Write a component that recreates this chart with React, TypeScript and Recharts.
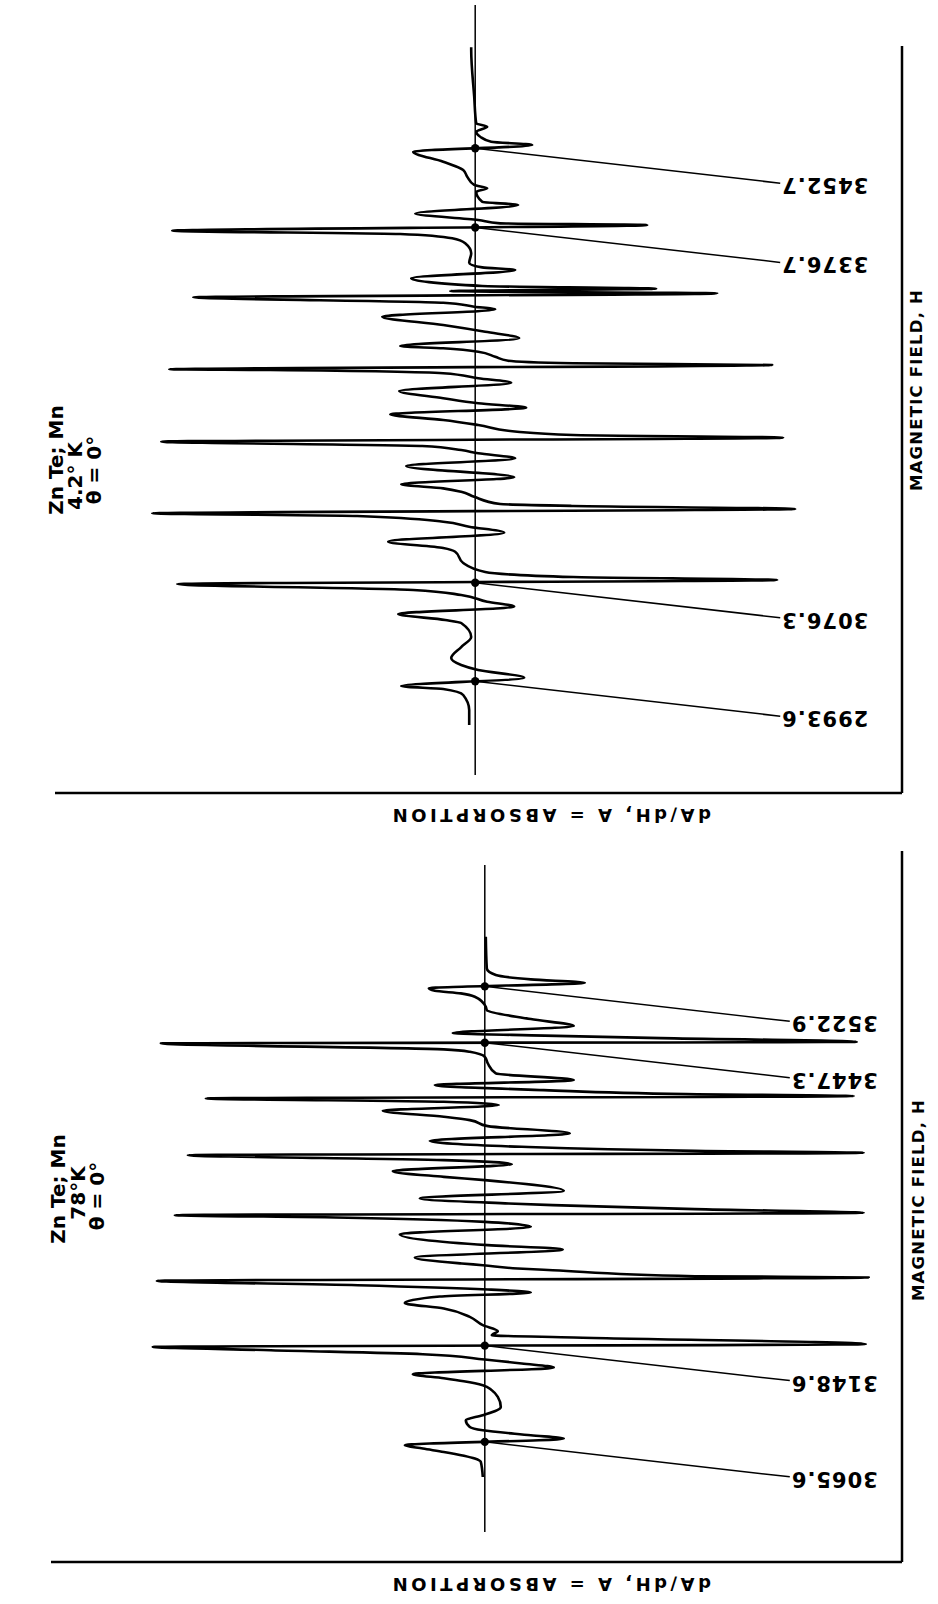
import React from 'react';
import { LineChart, Line, XAxis, YAxis, ReferenceLine, ReferenceDot } from 'recharts';

// ---------- data (field H in gauss, signal dA/dH in arbitrary units) ----------
const fieldTop = [
  2955.1, 2967.9, 2980.8, 2985.9, 2988.5, 2995.6, 3002.2, 3006.5, 3012.5, 3021.9,
  3030.5, 3042.5, 3045.1, 3050.2, 3056.5, 3060.7, 3066.5, 3070.8, 3075.9, 3079.3,
  3081.9, 3086.2, 3093.9, 3103.6, 3106.8, 3112.2, 3119.9, 3125.0, 3129.3, 3134.2,
  3136.5, 3140.2, 3142.8, 3144.5, 3150.7, 3155.0, 3157.9, 3161.4, 3167.4, 3177.0,
  3183.6, 3187.9, 3190.7, 3194.2, 3197.9, 3201.3, 3203.6, 3206.4, 3212.2, 3216.5,
  3221.3, 3227.0, 3230.8, 3235.1, 3241.3, 3248.4, 3252.2, 3256.5, 3259.3, 3259.9,
  3263.6, 3265.1, 3267.3, 3270.7, 3275.0, 3277.9, 3279.9, 3286.5, 3292.1, 3297.9,
  3305.0, 3311.3, 3313.6, 3317.0, 3321.6, 3325.0, 3327.0, 3329.0, 3331.3, 3337.9,
  3345.0, 3347.3, 3351.3, 3359.3, 3367.9, 3372.2, 3375.9, 3378.7, 3383.6, 3385.0,
  3387.9, 3393.4, 3400.7, 3403.5, 3412.1, 3415.0, 3417.9, 3425.0, 3430.7, 3437.8,
  3446.4, 3452.1, 3455.0, 3459.2, 3463.5, 3467.8, 3470.7, 3493.5, 3533.5, 3536.0,
];
const signalTop = [
  -6, -6, -12, -32, -74, 49, 3, -14, -24, -14,
  -4, -14, -30, -77, 39, 12, -14, -62, -298, 302,
  98, 10, -12, -20, -32, -87, 29, -6, -32, -118,
  -323, 320, 98, 25, -1, -14, -32, -74, 39, -69,
  40, 3, -14, -53, -314, 308, 98, 42, 3, -32,
  -85, 51, 3, -32, -76, 36, 3, -32, -205, -306,
  297, 98, 33, 20, 3, -32, -75, 44, 10, -32,
  -93, 20, -1, -32, -282, 242, -25, 181, 7, -64,
  40, 7, -6, -4, -10, -23, -75, -303, 172, 25,
  3, -60, 43, 7, 1, 12, -1, -8, -12, -32,
  -62, 57, 16, 5, 1, 12, 1, -1, -4, -4,
];

const fieldBottom = [
  3023.3, 3038.3, 3041.7, 3048.3, 3051.7, 3055.0, 3061.7, 3065.0, 3070.0, 3073.3,
  3080.0, 3085.0, 3093.3, 3103.3, 3110.0, 3115.0, 3119.0, 3122.0, 3126.0, 3132.7,
  3136.7, 3140.7, 3146.0, 3150.0, 3153.3, 3156.0, 3162.7, 3165.0, 3169.0, 3175.0,
  3183.3, 3191.7, 3197.3, 3203.7, 3207.7, 3210.7, 3215.0, 3219.3, 3222.7, 3224.0,
  3230.0, 3231.7, 3235.0, 3236.7, 3242.7, 3250.7, 3255.0, 3266.0, 3273.3, 3278.3,
  3282.7, 3285.0, 3287.3, 3291.0, 3295.0, 3296.7, 3301.7, 3309.3, 3320.0, 3323.3,
  3329.0, 3336.0, 3340.0, 3345.0, 3347.3, 3349.3, 3353.3, 3359.3, 3366.7, 3374.0,
  3380.0, 3383.3, 3389.3, 3395.0, 3398.3, 3401.7, 3404.0, 3406.0, 3410.0, 3415.0,
  3420.0, 3426.7, 3436.7, 3443.3, 3448.3, 3450.7, 3456.7, 3458.3, 3462.0, 3464.5,
  3467.0, 3474.0, 3481.0, 3490.0, 3493.3, 3503.3, 3506.7, 3509.3, 3511.7, 3517.3,
  3520.7, 3525.0, 3531.7, 3563.3,
];
const signalBottom = [
  -2, -4, -10, -41, -62, -80, 79, 46, -2, -15,
  -19, -2, 16, 13, 7, -2, -21, -41, -72, 69,
  37, 0, -62, -214, -332, 381, 89, 7, 13, -2,
  -15, -41, -80, -45, 46, 3, -127, -328, 384, 210,
  68, 33, -2, -23, -70, 78, 3, -85, 46, 0,
  -149, -310, 379, 210, 68, 24, -65, 79, 0, -41,
  -92, 27, -41, -297, 379, 210, 37, -55, 85, 3,
  -15, -41, -102, 14, -41, -279, 369, 201, 59, -50,
  89, 11, 3, 0, -15, -41, -324, 372, 176, 60,
  -32, 89, 46, 2, 1, -10, -24, -50, -56, 100,
  46, 11, 2, 1,
];

// marked resonance positions on the trace and their printed values
const markFieldTop = [3449.4, 3381.5, 3077.0, 2992.6];
const markTextTop = ['3452.7', '3376.7', '3076.3', '2993.6'];
const markFieldBottom = [3513.7, 3457.4, 3154.6, 3058.4];
const markTextBottom = ['3522.9', '3447.3', '3148.6', '3065.6'];

const baselineTop = [2912.2, 3572.1];
const baselineBottom = [2968.3, 3635.0];

const titleTop = ['Zn Te; Mn', '4.2° K', 'θ = 0°'];
const titleBottom = ['Zn Te; Mn', '78°K', 'θ = 0°'];
const xTitle = 'dA/dH, A = ABSORPTION';
const yTitle = 'MAGNETIC FIELD, H';

// ---------- rendering ----------
const FONT = "'DejaVu Sans', sans-serif";
const LEAD_DX = 305;
const LEAD_DY = 35;

const build = (h: number[], s: number[]) => h.map((v, i) => ({ h: v, s: s[i] }));

const makeMarkShape = (text: string) => (p: any) => {
  const { cx, cy } = p;
  if (cx == null || cy == null) return <g />;
  const ex = cx + LEAD_DX;
  const ey = cy + LEAD_DY;
  return (
    <g>
      <line x1={cx} y1={cy} x2={ex} y2={ey} stroke="#000" strokeWidth={1.5} />
      <circle cx={cx} cy={cy} r={4.2} fill="#000" />
      <text
        transform={`translate(${ex + 1},${ey + 2}) rotate(180)`}
        textAnchor="end"
        dominantBaseline="central"
        fontFamily={FONT}
        fontWeight={700}
        fontSize={21}
        letterSpacing={1}
        fill="#000"
      >
        {text}
      </text>
    </g>
  );
};

type PanelProps = {
  top: number;
  height: number;
  margin: { top: number; right: number; bottom: number; left: number };
  data: { h: number; s: number }[];
  xDomain: [number, number];
  yDomain: [number, number];
  baseline: number[];
  marks: number[];
  markTexts: string[];
  xLabelPos: [number, number];
  yLabelPos: [number, number];
};

const Panel = (p: PanelProps) => {
  const xLabel = () => (
    <text
      transform={`translate(${p.xLabelPos[0]},${p.xLabelPos[1]}) rotate(180)`}
      textAnchor="middle"
      dominantBaseline="central"
      fontFamily={FONT}
      fontWeight={700}
      fontSize={18}
      letterSpacing={3.5}
      fill="#000"
    >
      {xTitle}
    </text>
  );
  const yLabel = () => (
    <text
      transform={`translate(${p.yLabelPos[0]},${p.yLabelPos[1]}) rotate(-90)`}
      textAnchor="middle"
      dominantBaseline="central"
      fontFamily={FONT}
      fontWeight={700}
      fontSize={16.5}
      letterSpacing={1.2}
      fill="#000"
    >
      {yTitle}
    </text>
  );
  return (
    <div style={{ position: 'absolute', left: 0, top: p.top, width: 938, height: p.height }}>
      <LineChart width={938} height={p.height} data={p.data} layout="vertical" margin={p.margin}>
        <XAxis
          type="number"
          dataKey="s"
          domain={p.xDomain}
          allowDataOverflow
          height={40}
          tick={false}
          tickLine={false}
          axisLine={{ stroke: '#000', strokeWidth: 2.5 }}
          label={xLabel}
        />
        <YAxis
          type="number"
          dataKey="h"
          orientation="right"
          reversed
          domain={p.yDomain}
          allowDataOverflow
          width={36}
          tick={false}
          tickLine={false}
          axisLine={{ stroke: '#000', strokeWidth: 2.5 }}
          label={yLabel}
        />
        <ReferenceLine
          segment={[
            { x: 0, y: p.baseline[0] },
            { x: 0, y: p.baseline[1] },
          ]}
          ifOverflow="visible"
          stroke="#000"
          strokeWidth={1.5}
        />
        <Line
          dataKey="s"
          type="monotone"
          stroke="#000"
          strokeWidth={2.6}
          strokeLinejoin="round"
          dot={false}
          activeDot={false}
          isAnimationActive={false}
        />
        {p.marks.map((m, i) => (
          <ReferenceDot
            key={i}
            x={0}
            y={m}
            r={4}
            ifOverflow="visible"
            shape={makeMarkShape(p.markTexts[i])}
          />
        ))}
      </LineChart>
    </div>
  );
};

const Title = ({ lines, xs, ys }: { lines: string[]; xs: number[]; ys: number[] }) => (
  <>
    {lines.map((t, i) => (
      <text
        key={i}
        transform={`translate(${xs[i]},${ys[i]}) rotate(-90)`}
        textAnchor="middle"
        dominantBaseline="central"
        fontFamily={FONT}
        fontWeight={700}
        fontSize={20}
        fill="#000"
      >
        {t}
      </text>
    ))}
  </>
);

export default function App() {
  return (
    <div style={{ position: 'absolute', left: 0, top: 0, width: 938, height: 1604, background: '#fff', overflow: 'hidden' }}>
      <Panel
        top={0}
        height={833}
        margin={{ top: 46, right: 0, bottom: 0, left: 55 }}
        data={build(fieldTop, signalTop)}
        xDomain={[-420.2, 426.8]}
        yDomain={[2896.8, 3537.0]}
        baseline={baselineTop}
        marks={markFieldTop}
        markTexts={markTextTop}
        xLabelPos={[550, 815]}
        yLabelPos={[916, 390]}
      />
      <Panel
        top={830}
        height={774}
        margin={{ top: 21, right: 0, bottom: 2, left: 51 }}
        data={build(fieldBottom, signalBottom)}
        xDomain={[-433.8, 417.2]}
        yDomain={[2938.3, 3649.0]}
        baseline={baselineBottom}
        marks={markFieldBottom}
        markTexts={markTextBottom}
        xLabelPos={[550, 754]}
        yLabelPos={[918, 370]}
      />
      <svg width={938} height={1604} style={{ position: 'absolute', left: 0, top: 0, pointerEvents: 'none' }}>
        <Title lines={titleTop} xs={[56, 75, 94]} ys={[460, 476, 470]} />
        <Title lines={titleBottom} xs={[58, 78, 97]} ys={[1189, 1193, 1196]} />
      </svg>
    </div>
  );
}
